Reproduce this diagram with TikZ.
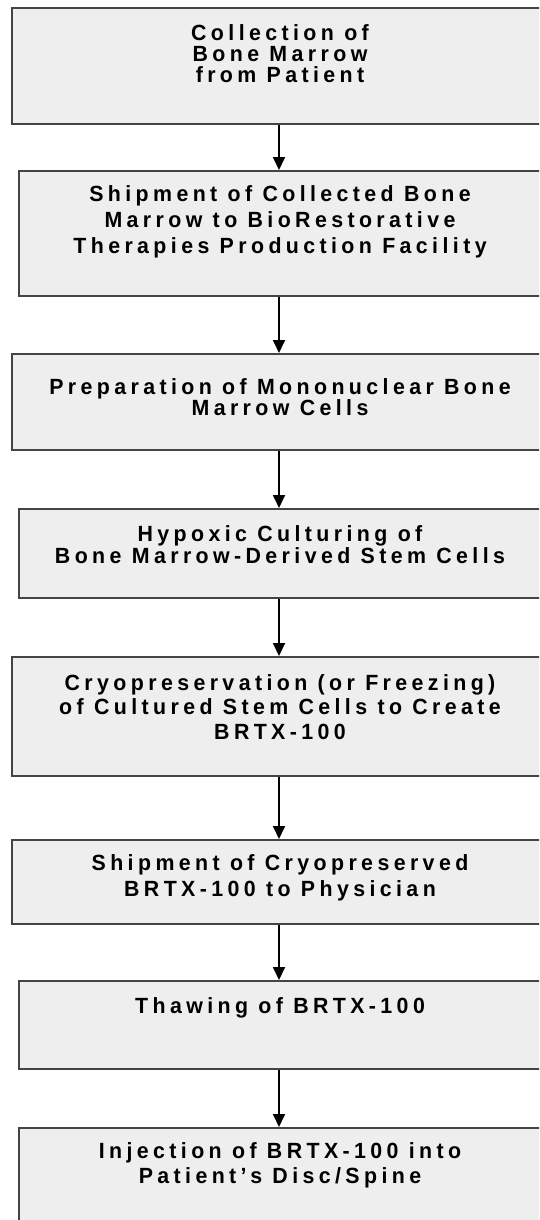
\documentclass[tikz,border=0pt]{standalone}
\usepackage{fontspec}
\setmainfont{Liberation Sans}[LetterSpace=20,FakeStretch=0.97]
\usetikzlibrary{arrows.meta}
\definecolor{boxfill}{HTML}{EEEEEE}
\definecolor{boxline}{HTML}{444444}

\begin{document}
\begin{tikzpicture}[x=1pt,y=-1pt]
  \tikzstyle{stage}=[draw=boxline,fill=boxfill,line width=2pt,anchor=north west,minimum width=532pt]
  \tikzstyle{stage text}=[anchor=north,align=center,inner sep=0pt,font=\fontsize{22}{24}\selectfont\bfseries]
  \tikzstyle{flow}=[line width=1.8pt,-{Triangle[length=13pt,width=12pt]}]

  \useasboundingbox (0,0) rectangle (539,1220);
  \clip (0,0) rectangle (539,1220);

  \coordinate (spine) at (279,0);

  \node[stage,minimum height=116pt] (s1) at (11,7) {};
  \node[stage,minimum height=125pt] (s2) at (18,170) {};
  \node[stage,minimum height=96pt] (s3) at (11,353) {};
  \node[stage,minimum height=89pt] (s4) at (18,508) {};
  \node[stage,minimum height=119pt] (s5) at (11,656) {};
  \node[stage,minimum height=84pt] (s6) at (11,839) {};
  \node[stage,minimum height=88pt] (s7) at (18,980) {};
  \node[stage,minimum height=120pt] (s8) at (18,1127) {};

  \node[stage text,font=\fontsize{22}{21}\selectfont\bfseries] (t1) at (280,24) {Collection of\\Bone Marrow\\from Patient};
  \node[stage text,font=\fontsize{22}{26}\selectfont\bfseries] (t2) at (280,185) {Shipment of Collected Bone\\Marrow to BioRestorative\\Therapies Production Facility};
  \node[stage text,font=\fontsize{22}{20}\selectfont\bfseries] (t3) at (280,378) {Preparation of Mononuclear Bone\\Marrow Cells};
  \node[stage text,font=\fontsize{22}{22}\selectfont\bfseries] (t4) at (280,525) {Hypoxic Culturing of\\Bone Marrow-Derived Stem Cells};
  \node[stage text,font=\fontsize{22}{24.5}\selectfont\bfseries] (t5) at (280,674) {Cryopreservation (or Freezing)\\of Cultured Stem Cells to Create\\BRTX-100};
  \node[stage text,font=\fontsize{22}{26}\selectfont\bfseries] (t6) at (280,854) {Shipment of Cryopreserved\\BRTX-100 to Physician};
  \node[stage text] (t7) at (280,997) {Thawing of BRTX-100};
  \node[stage text,font=\fontsize{22}{25}\selectfont\bfseries] (t8) at (280,1142) {Injection of BRTX-100 into\\Patient's Disc/Spine};

  \foreach \a/\b in {s1/s2,s2/s3,s3/s4,s4/s5,s5/s6,s6/s7,s7/s8}
    \draw[flow] (\a.south -| spine) -- (\b.north -| spine);
\end{tikzpicture}
\end{document}
